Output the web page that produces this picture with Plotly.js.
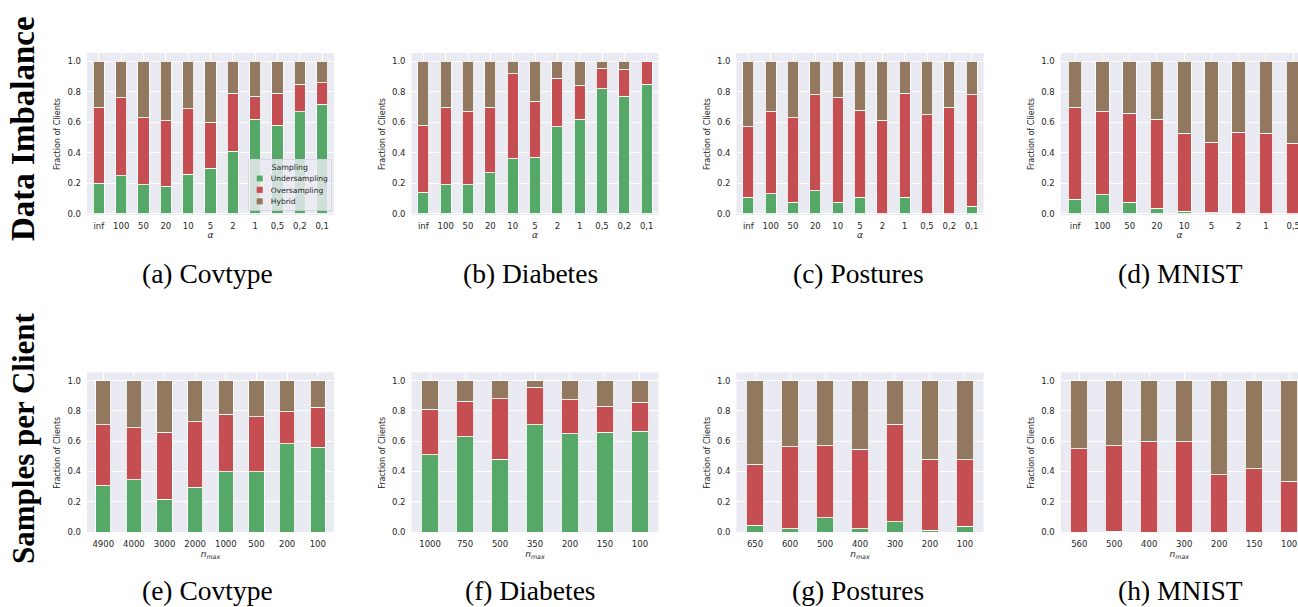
<!DOCTYPE html>
<html>
<head>
<meta charset="utf-8">
<script src="https://cdn.plot.ly/plotly-3.0.1.min.js"></script>
<style>html,body{margin:0;padding:0;background:#fff;}#chart{width:1298px;height:607px;}</style>
</head>
<body>
<div id="chart"></div>
<script>
// ---------- categories ----------
const alphaCats = ['inf', '100', '50', '20', '10', '5', '2', '1', '0,5', '0,2', '0,1'];
const mnistAlphaCats = ['inf', '100', '50', '20', '10', '5', '2', '1', '0,5'];
const covtypeNmax = ['4900', '4000', '3000', '2000', '1000', '500', '200', '100'];
const diabetesNmax = ['1000', '750', '500', '350', '200', '150', '100'];
const posturesNmax = ['650', '600', '500', '400', '300', '200', '100'];
const mnistNmax = ['560', '500', '400', '300', '200', '150', '100'];

// ---------- values (fraction of clients) ----------
// (a) Covtype, alpha
const covAlphaUnder = [0.20, 0.25, 0.19, 0.18, 0.26, 0.30, 0.41, 0.62, 0.58, 0.67, 0.72];
const covAlphaOver  = [0.50, 0.51, 0.44, 0.43, 0.43, 0.30, 0.38, 0.15, 0.21, 0.18, 0.14];
const covAlphaHyb   = [0.30, 0.24, 0.37, 0.39, 0.31, 0.40, 0.21, 0.23, 0.21, 0.15, 0.14];
// (b) Diabetes, alpha
const diaAlphaUnder = [0.14, 0.19, 0.19, 0.27, 0.36, 0.37, 0.57, 0.62, 0.82, 0.77, 0.85];
const diaAlphaOver  = [0.44, 0.51, 0.48, 0.43, 0.56, 0.37, 0.32, 0.22, 0.135, 0.18, 0.15];
const diaAlphaHyb   = [0.42, 0.30, 0.33, 0.30, 0.08, 0.26, 0.11, 0.16, 0.045, 0.05, 0.0];
// (c) Postures, alpha
const posAlphaUnder = [0.11, 0.13, 0.075, 0.15, 0.075, 0.11, 0.0, 0.11, 0.0, 0.0, 0.05];
const posAlphaOver  = [0.46, 0.54, 0.555, 0.63, 0.69, 0.57, 0.615, 0.68, 0.65, 0.70, 0.73];
const posAlphaHyb   = [0.43, 0.33, 0.37, 0.22, 0.235, 0.32, 0.385, 0.21, 0.35, 0.30, 0.22];
// (d) MNIST, alpha
const mniAlphaUnder = [0.095, 0.125, 0.075, 0.035, 0.018, 0.007, 0.0, 0.0, 0.0];
const mniAlphaOver  = [0.605, 0.545, 0.585, 0.585, 0.509, 0.461, 0.534, 0.527, 0.464];
const mniAlphaHyb   = [0.30, 0.33, 0.34, 0.38, 0.473, 0.532, 0.466, 0.473, 0.536];
// (e) Covtype, n_max
const covNUnder = [0.305, 0.345, 0.218, 0.297, 0.40, 0.40, 0.582, 0.56];
const covNOver  = [0.403, 0.343, 0.441, 0.433, 0.378, 0.36, 0.214, 0.264];
const covNHyb   = [0.292, 0.312, 0.341, 0.27, 0.222, 0.24, 0.204, 0.176];
// (f) Diabetes, n_max
const diaNUnder = [0.51, 0.63, 0.48, 0.71, 0.65, 0.66, 0.665];
const diaNOver  = [0.30, 0.234, 0.40, 0.246, 0.223, 0.17, 0.192];
const diaNHyb   = [0.19, 0.136, 0.12, 0.044, 0.127, 0.17, 0.143];
// (g) Postures, n_max
const posNUnder = [0.046, 0.022, 0.095, 0.022, 0.068, 0.011, 0.04];
const posNOver  = [0.402, 0.543, 0.474, 0.525, 0.644, 0.47, 0.437];
const posNHyb   = [0.552, 0.435, 0.431, 0.453, 0.288, 0.519, 0.523];
// (h) MNIST, n_max
const mniNUnder = [0.0, 0.005, 0.0, 0.0, 0.0, 0.0, 0.0];
const mniNOver  = [0.549, 0.564, 0.60, 0.596, 0.378, 0.418, 0.334];
const mniNHyb   = [0.451, 0.431, 0.40, 0.404, 0.622, 0.582, 0.666];

const seriesNames = ['Undersampling', 'Oversampling', 'Hybrid'];
const rowLabels = ['Data Imbalance', 'Samples per Client'];
const captions = ['(a) Covtype', '(b) Diabetes', '(c) Postures', '(d) MNIST',
                  '(e) Covtype', '(f) Diabetes', '(g) Postures', '(h) MNIST'];

// ---------- panels ----------
const panels = [
  {cats: alphaCats,      s: [covAlphaUnder, covAlphaOver, covAlphaHyb], row: 0, col: 0},
  {cats: alphaCats,      s: [diaAlphaUnder, diaAlphaOver, diaAlphaHyb], row: 0, col: 1},
  {cats: alphaCats,      s: [posAlphaUnder, posAlphaOver, posAlphaHyb], row: 0, col: 2},
  {cats: mnistAlphaCats, s: [mniAlphaUnder, mniAlphaOver, mniAlphaHyb], row: 0, col: 3},
  {cats: covtypeNmax,    s: [covNUnder, covNOver, covNHyb], row: 1, col: 0},
  {cats: diabetesNmax,   s: [diaNUnder, diaNOver, diaNHyb], row: 1, col: 1},
  {cats: posturesNmax,   s: [posNUnder, posNOver, posNHyb], row: 1, col: 2},
  {cats: mnistNmax,      s: [mniNUnder, mniNOver, mniNHyb], row: 1, col: 3}
];

const W = 1298, H = 607;
const colors = ['#55A868', '#C44E52', '#937860'];
const panelLeft = [87, 411.5, 736.5, 1060.7];
const panelWidth = 247;
const rowTop = [53, 372.3];
const rowBottom = [215, 533.3];
const capX = [207, 530, 858, 1180];
const capY = [273, 590];
const rowLabelY = [129, 438];
const rowLabelSize = [33, 31];
const tickColor = '#262626';
// legend box target (px): right edge, top, bottom
const legendBox = {right: 331, top: 159, bottom: 210};

const traces = [];
const layout = {
  width: W, height: H,
  margin: {l: 0, r: 0, t: 0, b: 0},
  paper_bgcolor: '#ffffff',
  plot_bgcolor: '#EAEAF2',
  barmode: 'stack',
  font: {family: 'DejaVu Sans', color: tickColor, size: 8.5},
  showlegend: true,
  legend: {
    x: legendBox.right / W, y: 1 - legendBox.bottom / H, xanchor: 'right', yanchor: 'bottom',
    bgcolor: 'rgba(236,236,243,0.82)', bordercolor: '#D4D4DC', borderwidth: 1.5,
    font: {family: 'DejaVu Sans', size: 13.5, color: tickColor},
    title: {text: 'Sampling', side: 'top center', font: {family: 'DejaVu Sans', size: 14, color: tickColor}},
    traceorder: 'normal', tracegroupgap: 0, itemwidth: 30
  },
  annotations: [],
  bargap: 0
};

panels.forEach((p, i) => {
  const k = i + 1;
  const xa = 'x' + (k === 1 ? '' : k);
  const ya = 'y' + (k === 1 ? '' : k);
  const n = p.cats.length;
  const x0 = panelLeft[p.col];
  const fullUnits = n + 0.06;
  const pxPerUnit = panelWidth / fullUnits;
  const visibleRight = Math.min(x0 + panelWidth, W);
  const lo = -0.53;
  const hi = lo + (visibleRight - x0) / pxPerUnit;
  p.s.forEach((vals, j) => {
    traces.push({
      type: 'bar', x: p.cats, y: vals, name: seriesNames[j],
      xaxis: xa, yaxis: ya, width: 0.5,
      marker: {color: colors[j], line: {color: 'rgba(255,255,255,0.85)', width: 1}},
      showlegend: i === 0, legendgroup: seriesNames[j],
      hoverinfo: 'x+y+name'
    });
  });
  layout['xaxis' + (k === 1 ? '' : k)] = {
    domain: [x0 / W, visibleRight / W],
    anchor: ya, type: 'category', range: [lo, hi],
    showgrid: true, gridcolor: '#ffffff', gridwidth: 1,
    zeroline: false, showline: false, ticks: '', ticklabelstandoff: 4,
    tickfont: {size: 8.5, color: tickColor},
    title: {text: p.row === 0 ? '<i>α</i>' : '<i>n</i><sub><i>max</i></sub>',
            font: {size: 9, color: tickColor}, standoff: 2}
  };
  layout['yaxis' + (k === 1 ? '' : k)] = {
    domain: [1 - rowBottom[p.row] / H, 1 - rowTop[p.row] / H],
    anchor: xa, range: [-0.008, 1.055],
    tickvals: [0, 0.2, 0.4, 0.6, 0.8, 1.0], tickformat: '.1f',
    showgrid: true, gridcolor: '#ffffff', gridwidth: 1,
    zeroline: false, showline: false, ticks: '', ticklabelstandoff: 5,
    tickfont: {size: 8.5, color: tickColor},
    title: {text: 'Fraction of Clients', font: {size: 8, color: tickColor}, standoff: 5}
  };
  layout.annotations.push({
    text: captions[i], xref: 'paper', yref: 'paper',
    x: capX[p.col] / W, y: 1 - capY[p.row] / H, xanchor: 'center', yanchor: 'middle',
    showarrow: false, font: {family: 'Liberation Serif', size: 27.5, color: '#000000'}
  });
});

rowLabels.forEach((t, r) => {
  layout.annotations.push({
    text: '<b>' + t + '</b>', xref: 'paper', yref: 'paper',
    x: 23 / W, y: 1 - rowLabelY[r] / H, xanchor: 'center', yanchor: 'middle',
    textangle: -90, showarrow: false,
    font: {family: 'Liberation Serif', size: rowLabelSize[r], color: '#000000'}
  });
});

Plotly.newPlot('chart', traces, layout, {displayModeBar: false, staticPlot: true}).then(gd => {
  // shrink the legend to the compact size of the reference, keeping its right edge in place
  const leg = gd.querySelector('g.legend');
  if (!leg) return;
  const bg = leg.querySelector('rect.bg');
  const w = bg ? parseFloat(bg.getAttribute('width')) : leg.getBBox().width;
  const h = bg ? parseFloat(bg.getAttribute('height')) : leg.getBBox().height;
  const s = (legendBox.bottom - legendBox.top) / h;
  const tx = legendBox.right - w * s;
  const ty = legendBox.top;
  leg.setAttribute('transform', 'translate(' + tx + ',' + ty + ') scale(' + s + ')');
});
</script>
</body>
</html>
